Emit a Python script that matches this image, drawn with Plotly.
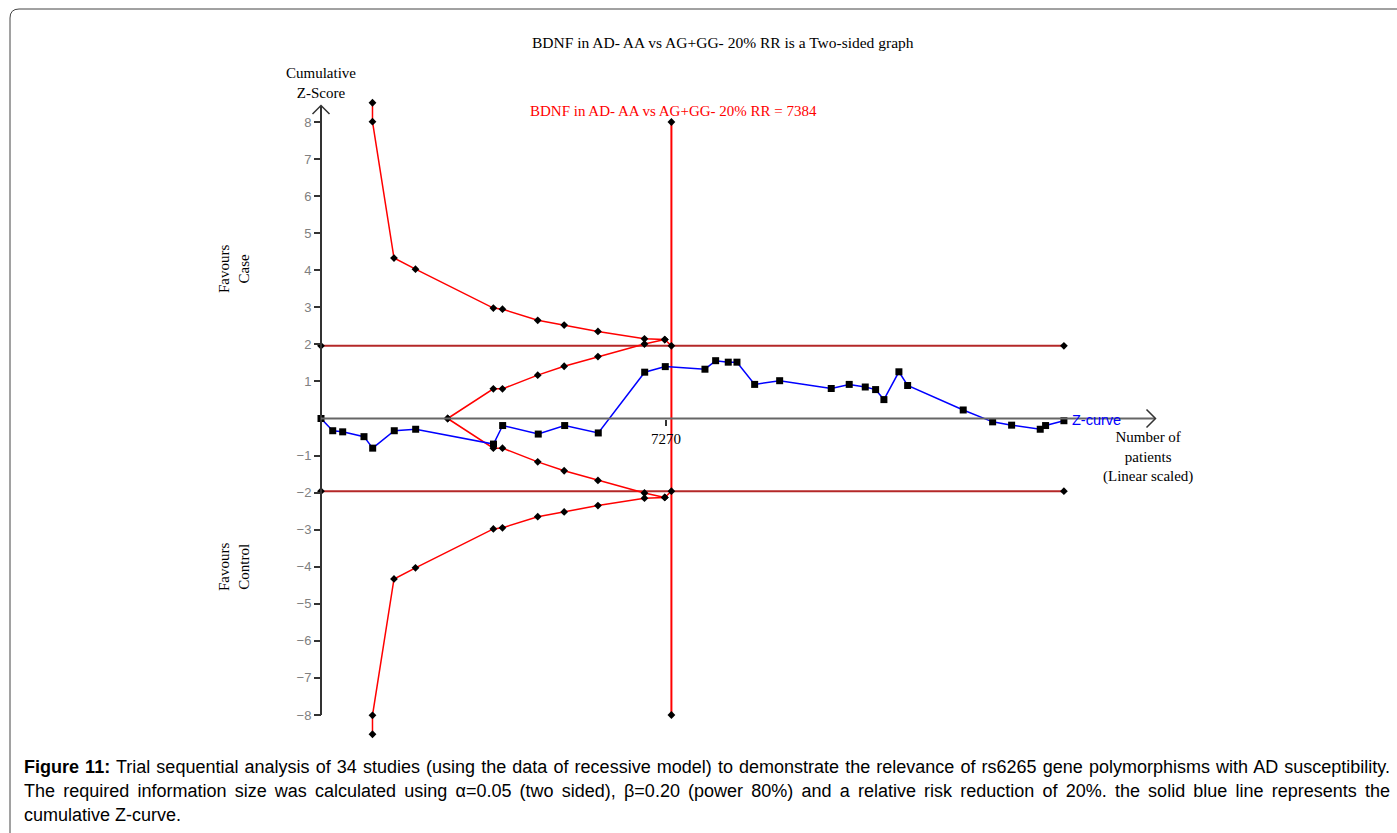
import plotly.graph_objects as go

# ---------------- data ----------------
title_text = "BDNF in AD- AA vs AG+GG- 20% RR is a Two-sided graph"
ris_label = "BDNF in AD- AA vs AG+GG- 20% RR = 7384"
ris = 7384
tick_patients = [7270]
conv_z = 1.96
ris_line_z = 8

zcurve_n = [0, 247, 457, 906, 1089, 1544, 1995, 3635, 3828, 4578, 5135, 5843, 6821, 7255,
            8091, 8316, 8582, 8765, 9138, 9665, 10752, 11131, 11469, 11687, 11862, 12178,
            12362, 13533, 14153, 14553, 15156, 15269, 15655]
zcurve_z = [0, -0.33, -0.36, -0.49, -0.80, -0.33, -0.29, -0.69, -0.19, -0.42, -0.19, -0.39,
            1.25, 1.40, 1.33, 1.56, 1.52, 1.52, 0.92, 1.02, 0.81, 0.92, 0.85, 0.78, 0.51,
            1.26, 0.89, 0.23, -0.09, -0.18, -0.29, -0.19, -0.06]

# O'Brien-Fleming type monitoring boundary (upper; lower is mirrored)
bound_n = [1085, 1085, 1538, 1991, 3632, 3824, 4567, 5124, 5836, 6816, 7244, 7384]
bound_z = [8.52, 8.01, 4.33, 4.03, 2.98, 2.95, 2.65, 2.52, 2.35, 2.15, 2.13, 1.96]

# futility (inner wedge) boundary (upper; lower mirrored)
inner_n = [2669, 3632, 3824, 4567, 5124, 5836, 6816, 7244]
inner_z = [0, 0.80, 0.80, 1.17, 1.41, 1.67, 2.01, 2.13]

y_ticks = [-8, -7, -6, -5, -4, -3, -2, -1, 1, 2, 3, 4, 5, 6, 7, 8]

caption_lines = [
    "<b>Figure 11:</b> Trial sequential analysis of 34 studies (using the data of recessive model) to demonstrate the relevance of rs6265 gene polymorphisms with AD susceptibility.",
    "The required information size was calculated using \u03b1=0.05 (two sided), \u03b2=0.20 (power 80%) and a relative risk reduction of 20%. the solid blue line represents the",
    "cumulative Z-curve.",
]

# ---------------- layout geometry (pixels) ----------------
W, H = 1397, 833
X0PX, KX = 321.0, 345.0 / 7270.0   # x pixel of 0 patients, px per patient
Y0PX, KY = 418.5, 37.06            # y pixel of Z=0, px per Z unit


def nx(px):
    return (px - X0PX) / KX


def zy(py):
    return (Y0PX - py) / KY


def px_(x):
    return x / W


def py_(y):
    return 1 - y / H


SERIF = "Liberation Serif, Times New Roman, serif"
SANS = "Liberation Sans, Arial, sans-serif"
RED = "#FF0000"
DARKRED = "#B42828"
BLUE = "#0000FF"

fig = go.Figure()

# conventional boundaries +-1.96
for s in (1, -1):
    fig.add_trace(go.Scatter(
        x=[0, zcurve_n[-1]], y=[s * conv_z, s * conv_z], mode="lines+markers",
        line=dict(color=DARKRED, width=2),
        marker=dict(symbol="diamond", size=6, color="black"), showlegend=False, hoverinfo="skip"))

# RIS vertical line
fig.add_trace(go.Scatter(
    x=[ris, ris], y=[-ris_line_z, ris_line_z], mode="lines+markers",
    line=dict(color=RED, width=2),
    marker=dict(symbol="diamond", size=6, color="black"), showlegend=False, hoverinfo="skip"))

# monitoring boundaries
for s in (1, -1):
    fig.add_trace(go.Scatter(
        x=bound_n, y=[s * v for v in bound_z], mode="lines+markers",
        line=dict(color=RED, width=1.5),
        marker=dict(symbol="diamond", size=6, color="black"), showlegend=False, hoverinfo="skip"))
    fig.add_trace(go.Scatter(
        x=inner_n, y=[s * v for v in inner_z], mode="lines+markers",
        line=dict(color=RED, width=1.5),
        marker=dict(symbol="diamond", size=6, color="black"), showlegend=False, hoverinfo="skip"))

# Z-curve
fig.add_trace(go.Scatter(
    x=zcurve_n, y=zcurve_z, mode="lines+markers",
    line=dict(color=BLUE, width=1.5),
    marker=dict(symbol="square", size=7, color="black"), showlegend=False, hoverinfo="skip"))

shapes = []
# y axis line with open arrow
shapes.append(dict(type="line", xref="x", yref="y", x0=0, x1=0, y0=-8, y1=zy(106),
                   line=dict(color="#333333", width=2)))
shapes.append(dict(type="path", xref="x", yref="y",
                   path=f"M {nx(312.5)},{zy(114)} L {nx(321)},{zy(105.5)} L {nx(329.5)},{zy(114)}",
                   line=dict(color="#333333", width=1.5)))
# x axis line with open arrow
shapes.append(dict(type="line", xref="x", yref="y", x0=0, x1=nx(1155), y0=0, y1=0,
                   line=dict(color="#666666", width=2)))
shapes.append(dict(type="path", xref="x", yref="y",
                   path=f"M {nx(1146.5)},{zy(409.5)} L {nx(1155.5)},{zy(418.5)} L {nx(1146.5)},{zy(427.5)}",
                   line=dict(color="#333333", width=1.5)))
# frame with rounded corner
shapes.append(dict(type="path", xref="paper", yref="paper",
                   path=(f"M {px_(10)},{py_(840)} L {px_(10)},{py_(18)} "
                         f"Q {px_(10)},{py_(9)} {px_(19)},{py_(9)} L {px_(1405)},{py_(9)}"),
                   line=dict(color="#444444", width=1)))

annotations = []


def ann(text, x, y, size=15, color="black", family=SERIF, xanchor="center", yanchor="middle",
        textangle=0, align="center"):
    annotations.append(dict(text=text, x=px_(x), y=py_(y), xref="paper", yref="paper",
                            showarrow=False, font=dict(size=size, color=color, family=family),
                            xanchor=xanchor, yanchor=yanchor, textangle=textangle, align=align))


ann(title_text, 723, 42, size=15.5)
ann(ris_label, 673, 111, color=RED)
ann("Cumulative<br>Z-Score", 321, 83)
ann("Z-curve", 1070, 420, size=14.5, color=BLUE, family=SANS, xanchor="left")
ann("Number of<br>patients<br>(Linear scaled)", 1148, 457)
ann("Favours<br>Case", 234, 269, textangle=-90)
ann("Favours<br>Control", 234, 567, textangle=-90)
for i, line in enumerate(caption_lines):
    ann(line, 22, 767 + 24 * i, size=18, family=SANS, xanchor="left", align="left")

fig.update_layout(
    width=W, height=H, margin=dict(l=0, r=0, t=0, b=0),
    paper_bgcolor="white", plot_bgcolor="white",
    shapes=shapes, annotations=annotations,
    xaxis=dict(range=[nx(0), nx(W)], showgrid=False, zeroline=False, showline=False,
               anchor="free", position=py_(Y0PX), tickmode="array", tickvals=tick_patients,
               ticktext=[str(v) for v in tick_patients], ticks="outside", ticklen=6,
               tickwidth=1.5, tickcolor="#333333",
               tickfont=dict(family=SERIF, size=15, color="black"), automargin=False),
    yaxis=dict(range=[zy(H), zy(0)], showgrid=False, zeroline=False, showline=False,
               anchor="free", position=px_(X0PX), tickmode="array", tickvals=y_ticks,
               ticktext=[str(v).replace("-", "\u2212") for v in y_ticks], ticks="outside",
               ticklen=7, tickwidth=1.5, tickcolor="#333333",
               tickfont=dict(family=SANS, size=13, color="#808080"), automargin=False),
)

post = """
document.body.style.margin='0';
document.body.style.overflow='hidden';
(function(){
  var gd = document.getElementById('{plot_id}');
  if(!gd) return;
  var texts = gd.querySelectorAll('.annotation-text');
  texts.forEach(function(t){
    var s = t.textContent || '';
    if (s.indexOf('Figure 11:') === 0 || s.indexOf('The required') === 0) {
      var target = 1390 - 24;
      var w = t.getBBox().width;
      var n = (s.match(/ /g) || []).length;
      if (n > 0 && w < target) { t.style.wordSpacing = ((target - w) / n) + 'px'; }
    }
  });
})();
"""

fig.write_html("out.html", config={"displayModeBar": False}, post_script=post)
